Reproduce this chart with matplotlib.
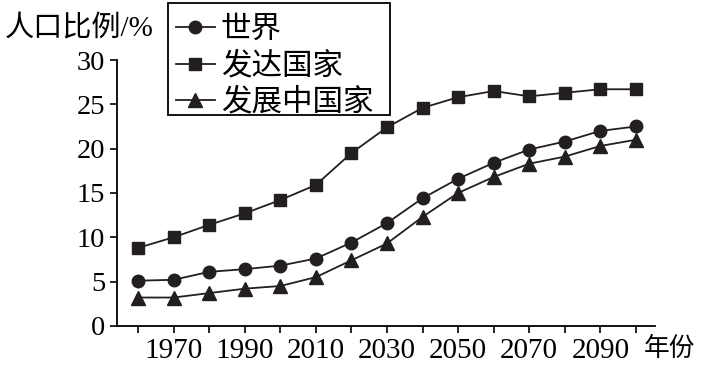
import matplotlib
matplotlib.use('Agg')
import matplotlib.pyplot as plt
from matplotlib.patches import Rectangle

plt.rcParams['font.family'] = ['Liberation Serif', 'Noto Sans CJK SC']

# datos
years = [1960, 1970, 1980, 1990, 2000, 2010, 2020, 2030, 2040, 2050, 2060, 2070, 2080, 2090, 2100]
world = [5.1, 5.2, 6.1, 6.4, 6.8, 7.6, 9.4, 11.6, 14.4, 16.6, 18.4, 19.9, 20.8, 22.0, 22.5]
developed = [8.8, 10.0, 11.4, 12.7, 14.2, 15.9, 19.5, 22.4, 24.6, 25.8, 26.5, 25.9, 26.3, 26.7, 26.7]
developing = [3.2, 3.2, 3.7, 4.2, 4.5, 5.5, 7.4, 9.3, 12.3, 15.0, 16.8, 18.3, 19.1, 20.3, 21.0]
labels = ['世界', '发达国家', '发展中国家']
xtick_labels = [1970, 1990, 2010, 2030, 2050, 2070, 2090]

fig = plt.figure(figsize=(7.01, 3.67), dpi=100)
ax = fig.add_axes([0.167, 0.112, 0.767, 0.7245])

c = '#231f20'
l1, = ax.plot(years, world, '-o', color=c, lw=1.3, ms=9, label=labels[0])
l2, = ax.plot(years, developed, '-s', color=c, lw=1.3, ms=8.5, label=labels[1])
l3, = ax.plot(years, developing, '-^', color=c, lw=1.3, ms=9.5, label=labels[2])

ax.set_xlim(1954.1, 2105.3)
ax.set_ylim(0, 30)
ax.spines['top'].set_visible(False)
ax.spines['right'].set_visible(False)
ax.spines['left'].set_linewidth(1.3)
ax.spines['bottom'].set_linewidth(1.3)

ax.set_yticks([0, 5, 10, 15, 20, 25, 30])
ax.set_xticks(years)
ax.set_xticklabels([str(y) if y in xtick_labels else '' for y in years])
ax.tick_params(axis='y', direction='out', length=5, width=1.2, labelsize=20.5, pad=3.5)
ax.tick_params(axis='x', direction='out', length=5, width=1.2, labelsize=21, pad=3.5)

fig.text(0.007, 0.924, '人口比例/%', fontsize=21, va='center', ha='left')
fig.text(0.919, 0.048, '年份', fontsize=18.5, va='center', ha='left')

# leyenda sin marco + recuadro dibujado a mano
leg = fig.legend(handles=[l1, l2, l3], loc='upper left', bbox_to_anchor=(0.242, 0.975),
                 fontsize=22, frameon=False, handlelength=1.25,
                 handletextpad=0.2, labelspacing=0.24, borderpad=0.22, borderaxespad=0)
fig.add_artist(Rectangle((0.2397, 0.6866), 0.3167, 0.3052, transform=fig.transFigure,
                         fill=False, edgecolor='black', lw=1.3))

fig.savefig('out.png', dpi=100)
